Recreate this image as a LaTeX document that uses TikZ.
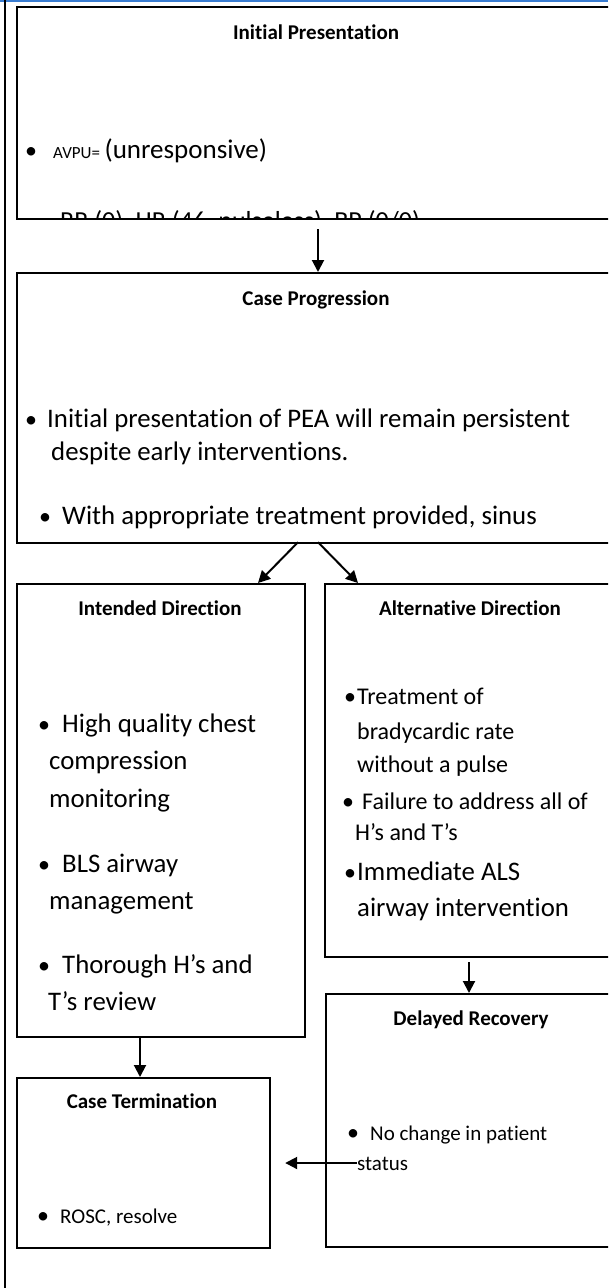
\documentclass[tikz,border=0pt]{standalone}
\usepackage{fontspec}
\setmainfont{Carlito}[RawFeature={-liga,-clig,-dlig}]
\usetikzlibrary{arrows.meta,calc}
\definecolor{topblue}{RGB}{58,125,210}
\begin{document}
\begin{tikzpicture}[x=1pt,y=-1pt,
  box/.style={draw=black,line width=2.2pt,anchor=north west,inner sep=0pt,rectangle},
  ttl/.style={anchor=base,inner sep=0pt,font=\fontsize{21}{25}\selectfont\bfseries},
  txt/.style={anchor=base west,inner sep=0pt,font=\fontsize{26.8}{32}\selectfont},
  sml/.style={anchor=base west,inner sep=0pt,font=\fontsize{24}{29}\selectfont},
  sms/.style={anchor=base west,inner sep=0pt,font=\fontsize{21}{25}\selectfont},
  bul/.style={anchor=base,inner sep=0pt,font=\fontsize{24}{29}\selectfont},
  arr/.style={line width=2pt,-{Triangle[length=12pt,width=12pt]}}]
\useasboundingbox (0,0) rectangle (608,1288);
\clip (0,0) rectangle (608,1288);
\fill[white] (0,0) rectangle (608,1288);
\draw[topblue,line width=2pt] (0,0.5) -- (608,0.5);
\draw[line width=2pt] (5,0) -- (5,1288);

% boxes
\node[box,minimum width=624pt,minimum height=212pt] (b1) at (16,6) {};
\node[box,minimum width=624pt,minimum height=270pt] (b2) at (16,272) {};
\node[box,minimum width=288pt,minimum height=453pt] (b3) at (16,583) {};
\node[box,minimum width=316pt,minimum height=373pt] (b4) at (324,583) {};
\node[box,minimum width=315pt,minimum height=253pt] (b5) at (325,993) {};
\node[box,minimum width=253pt,minimum height=170pt] (b6) at (16,1077) {};

% box 1
\node[ttl] (t1) at (316,39) {Initial Presentation};
\node[bul] (t1b) at (31,158) {•};
\node[anchor=base west,inner sep=0pt] (t1a) at (53,158) {\fontsize{17}{20}\selectfont AVPU=\fontsize{27}{33}\selectfont\,(unresponsive)};
\begin{scope}
\clip (17,7) rectangle (640,217);
\node[anchor=base west,inner sep=0pt,font=\fontsize{26}{31}\selectfont] (t1c) at (60,229) {RR (0), HR (46, pulseless), BP (0/0)};
\end{scope}

% box 2
\node[ttl] (t2) at (316,305) {Case Progression};
\node[bul] (t2b1) at (31,427) {•};
\node[txt] (t2l1) at (47,427) {Initial presentation of PEA will remain persistent};
\node[txt] (t2l2) at (51,460) {despite early interventions.};
\node[bul] (t2b2) at (45,524) {•};
\node[txt] (t2l3) at (62,524) {With appropriate treatment provided, sinus};

% box 3
\node[ttl] (t3) at (160,615) {Intended Direction};
\node[bul] (t3b1) at (44,732) {•};
\node[txt] (t3l1) at (62,732) {High quality chest};
\node[txt] (t3l2) at (49,769) {compression};
\node[txt] (t3l3) at (49,807) {monitoring};
\node[bul] (t3b2) at (44,872) {•};
\node[txt] (t3l4) at (62,872) {BLS airway};
\node[txt] (t3l5) at (49,909) {management};
\node[bul] (t3b3) at (44,973) {•};
\node[txt] (t3l6) at (62,973) {Thorough H’s and};
\node[txt] (t3l7) at (48,1010) {T’s review};

% box 4
\node[ttl] (t4) at (470,615) {Alternative Direction};
\node[bul] (t4b1) at (350,704) {•};
\node[sml] (t4l1) at (357,704) {Treatment of};
\node[sml] (t4l2) at (357,739) {bradycardic rate};
\node[sml] (t4l3) at (357,772) {without a pulse};
\node[bul] (t4b2) at (348,809) {•};
\node[sml] (t4l4) at (362,809) {Failure to address all of};
\node[sml] (t4l5) at (355,840) {H’s and T’s};
\node[bul] (t4b3) at (350,880) {•};
\node[txt] (t4l6) at (357,880) {Immediate ALS};
\node[txt] (t4l7) at (357,916) {airway intervention};

% box 5
\node[ttl] (t5) at (471,1025) {Delayed Recovery};
\node[bul] (t5b1) at (353,1140) {•};
\node[sms] (t5l1) at (370,1140) {No change in patient};
\node[sms] (t5l2) at (357,1170) {status};

% box 6
\node[ttl] (t6) at (142,1108) {Case Termination};
\node[bul] (t6b1) at (43,1223) {•};
\node[sms] (t6l1) at (60,1223) {ROSC, resolve};

% connectors
\draw[arr] ([xshift=302pt,yshift=-9pt]b1.south west) -- ([xshift=302pt]b2.north west);
\draw[arr] ([xshift=282pt,yshift=2pt]b2.south west) -- ([xshift=242pt]b3.north west);
\draw[arr] ([xshift=302pt,yshift=2pt]b2.south west) -- ([xshift=34pt]b4.north west);
\draw[arr] ([xshift=145pt,yshift=-4pt]b4.south west) -- ([xshift=144pt]b5.north west);
\draw[arr] ([xshift=124pt]b3.south west) -- ([xshift=124pt]b6.north west);
\draw[arr] ([xshift=32pt,yshift=-170pt]b5.north west) -- ([xshift=14pt,yshift=-86pt]b6.north east);
\end{tikzpicture}
\end{document}
